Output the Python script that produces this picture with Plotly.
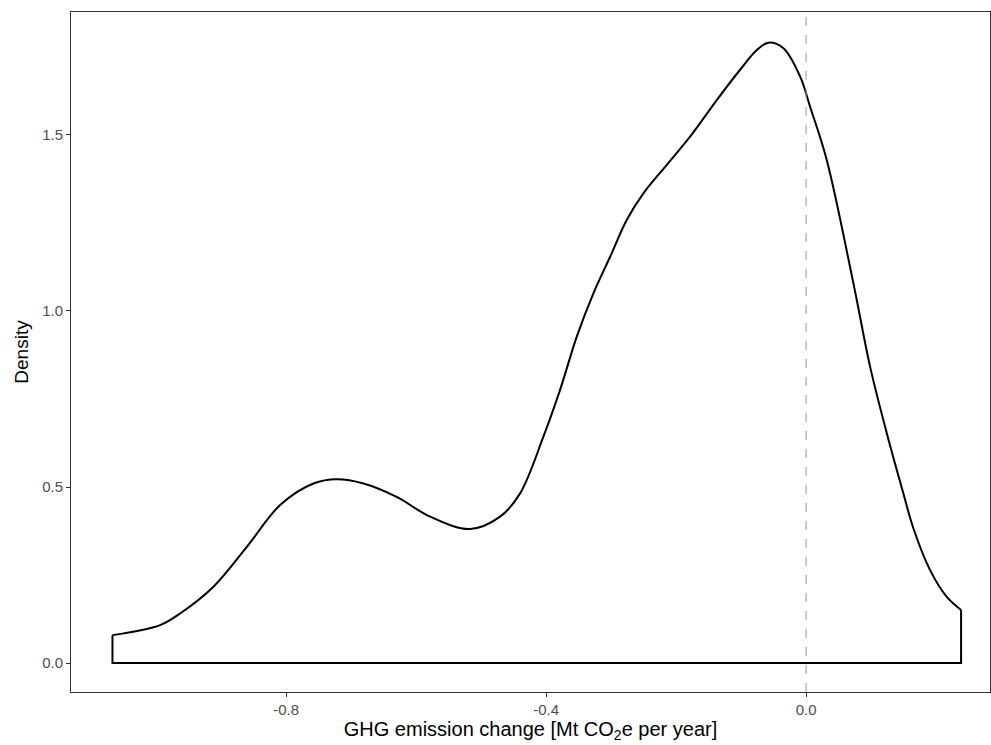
import plotly.graph_objects as go

# Density curve
x_vals = [-1.0672, -0.9938, -0.9631, -0.9118, -0.8605, -0.8092, -0.758, -0.722, -0.681,
          -0.630, -0.5785, -0.517, -0.4708, -0.44, -0.4042, -0.3785, -0.3528, -0.3272,
          -0.3015, -0.2758, -0.2503, -0.2143, -0.1785, -0.1374, -0.1015, -0.0758, -0.058,
          -0.0349, -0.0092, 0.0062, 0.0318, 0.0728, 0.0985, 0.1242, 0.1497, 0.1651,
          0.1908, 0.2165, 0.2385]
density = [0.0795, 0.108, 0.141, 0.217, 0.330, 0.449, 0.510, 0.522, 0.510,
           0.472, 0.416, 0.381, 0.416, 0.482, 0.643, 0.776, 0.927, 1.050,
           1.154, 1.259, 1.334, 1.415, 1.495, 1.599, 1.685, 1.741, 1.762,
           1.746, 1.666, 1.580, 1.429, 1.079, 0.842, 0.653, 0.482, 0.383,
           0.264, 0.188, 0.151]

x_ticks = [-0.8, -0.4, 0.0]
x_ticklabels = ["-0.8", "-0.4", "0.0"]
y_ticks = [0.0, 0.5, 1.0, 1.5]
y_ticklabels = ["0.0", "0.5", "1.0", "1.5"]

fig = go.Figure()

# Curve
fig.add_trace(go.Scatter(
    x=x_vals, y=density, mode="lines",
    line=dict(color="black", width=2, shape="spline", smoothing=1.0),
    hoverinfo="skip", showlegend=False))

# Closing sides and baseline of the density outline
fig.add_trace(go.Scatter(
    x=[x_vals[-1], x_vals[-1], x_vals[0], x_vals[0]],
    y=[density[-1], 0, 0, density[0]],
    mode="lines", line=dict(color="black", width=2),
    hoverinfo="skip", showlegend=False))

fig.add_vline(x=0, line=dict(color="#999999", width=1, dash="dash"))

font_family = "Liberation Sans, Arial, Helvetica, sans-serif"

fig.update_layout(
    width=991, height=745,
    margin=dict(l=71, r=1, t=12, b=53),
    paper_bgcolor="white", plot_bgcolor="white",
    font=dict(family=font_family, color="black"),
    xaxis=dict(
        range=[-1.131, 0.283],
        tickvals=x_ticks, ticktext=x_ticklabels,
        ticks="outside", ticklen=4, tickwidth=1, tickcolor="#333333",
        tickfont=dict(size=15, color="#4d4d4d"),
        showline=True, linecolor="#333333", linewidth=1, mirror=True,
        showgrid=False, zeroline=False,
        title=dict(text="GHG emission change [Mt CO<sub>2</sub>e per year]",
                   font=dict(size=20, color="black"), standoff=4),
    ),
    yaxis=dict(
        range=[-0.082, 1.849],
        tickvals=y_ticks, ticktext=y_ticklabels,
        ticks="outside", ticklen=4, tickwidth=1, tickcolor="#333333",
        tickfont=dict(size=15, color="#4d4d4d"),
        showline=True, linecolor="#333333", linewidth=1, mirror=True,
        showgrid=False, zeroline=False,
        title=dict(text="Density", font=dict(size=19, color="black"), standoff=8),
    ),
)

fig.write_html("out.html")
